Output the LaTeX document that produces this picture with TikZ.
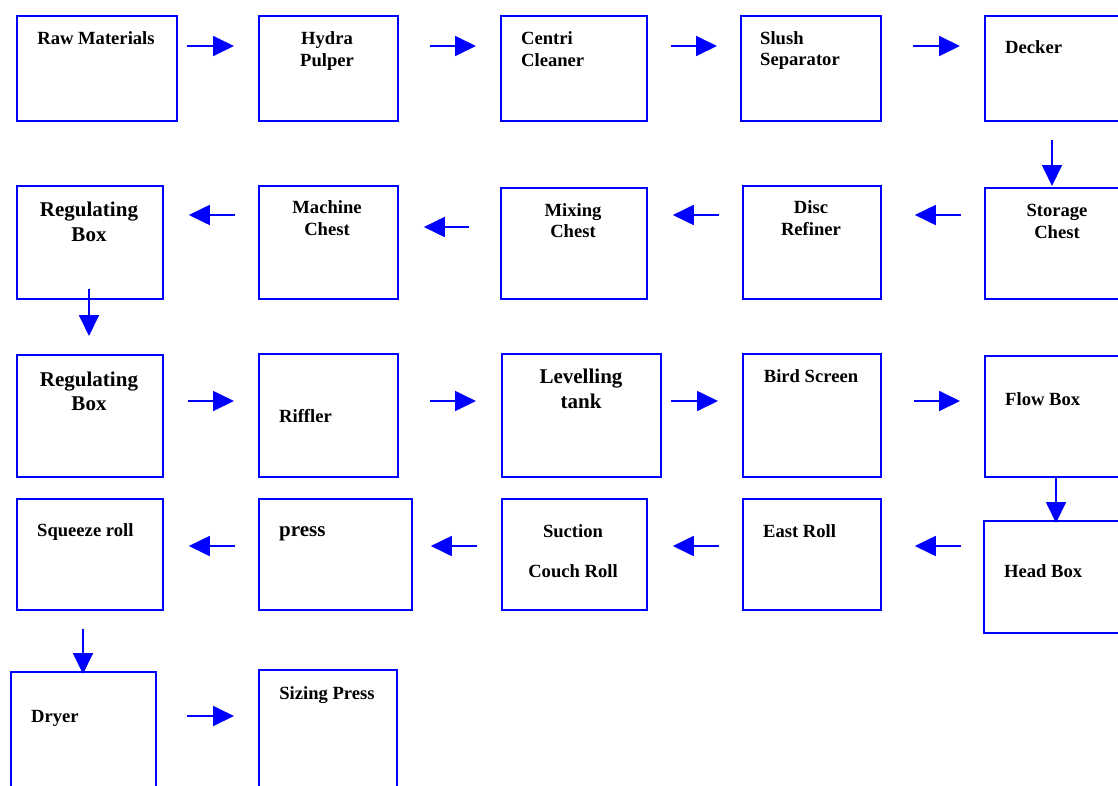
\documentclass[tikz,border=0pt]{standalone}
\usepackage{fontspec}
\setmainfont{Liberation Serif}
\usetikzlibrary{arrows.meta,calc}
\tikzset{
  stage/.style={draw=blue, line width=1.8pt, inner sep=0pt, anchor=north west},
  flow/.style={draw=blue, line width=1.8pt, -{Triangle[length=21pt,width=20pt]}},
  lbl/.style={inner sep=0pt, font=\fontsize{18.6}{21.5}\selectfont\bfseries},
  biglbl/.style={inner sep=0pt, font=\fontsize{21}{24.5}\selectfont\bfseries},
}
% \stagebox{name}{left}{top}{right}{bottom}
\newcommand\stagebox[5]{%
  \node[stage, minimum width={(#4-#2)*1pt}, minimum height={(#5-#3)*1pt}] (#1) at (#2,#3) {};}
\begin{document}
\begin{tikzpicture}[x=1pt,y=-1pt]
\useasboundingbox (0,0) rectangle (1118,785);
\clip (0,0) rectangle (1118,785);

% process stages
\stagebox{raw}{16}{15}{176}{120}
\stagebox{hydra}{258}{15}{397}{120}
\stagebox{centri}{500}{15}{646}{120}
\stagebox{slush}{740}{15}{880}{120}
\stagebox{decker}{984}{15}{1130}{120}
\stagebox{storage}{984}{187}{1130}{298}
\stagebox{disc}{742}{185}{880}{298}
\stagebox{mixing}{500}{187}{646}{298}
\stagebox{machine}{258}{185}{397}{298}
\stagebox{rega}{16}{185}{162}{298}
\stagebox{regb}{16}{354}{162}{476}
\stagebox{riffler}{258}{353}{397}{476}
\stagebox{level}{501}{353}{660}{476}
\stagebox{bird}{742}{353}{880}{476}
\stagebox{flowbox}{984}{355}{1130}{476}
\stagebox{headbox}{983}{520}{1130}{632}
\stagebox{east}{742}{498}{880}{609}
\stagebox{suction}{501}{498}{646}{609}
\stagebox{press}{258}{498}{411}{609}
\stagebox{squeeze}{16}{498}{162}{609}
\stagebox{dryer}{10}{671}{155}{800}
\stagebox{sizing}{258}{669}{396}{800}

% stage labels
\node[lbl, anchor=north] (raw-t) at (96,31.5) {Raw Materials};
\node[lbl, anchor=north, align=center] (hydra-t) at (327,31.5) {Hydra\\Pulper};
\node[lbl, anchor=north west, align=left] (centri-t) at (521,31.5) {Centri\\Cleaner};
\node[lbl, anchor=north west, align=left] (slush-t) at (760,31) {Slush\\Separator};
\node[lbl, anchor=north west] (decker-t) at (1005,40.8) {Decker};
\node[lbl, anchor=north, align=center] (storage-t) at (1057,204) {Storage\\Chest};
\node[lbl, anchor=north, align=center] (disc-t) at (811,200.8) {Disc\\Refiner};
\node[lbl, anchor=north, align=center] (mixing-t) at (573,203) {Mixing\\Chest};
\node[lbl, anchor=north, align=center] (machine-t) at (327,200.5) {Machine\\Chest};
\node[biglbl, anchor=north, align=center] (rega-t) at (89,202) {Regulating\\Box};
\node[biglbl, anchor=north, align=center] (regb-t) at (89,371.5) {Regulating\\Box};
\node[lbl, anchor=north west] (riffler-t) at (279,409.5) {Riffler};
\node[biglbl, anchor=north, align=center] (level-t) at (581,369) {Levelling\\tank};
\node[lbl, anchor=north] (bird-t) at (811,369) {Bird Screen};
\node[lbl, anchor=north west] (flowbox-t) at (1005,392.5) {Flow Box};
\node[lbl, anchor=north west] (headbox-t) at (1004,564) {Head Box};
\node[lbl, anchor=north west] (east-t) at (763,524) {East Roll};
\node[lbl, anchor=north, align=center] (suction-t) at (573,524) {Suction\\[19pt]Couch Roll};
\node[biglbl, anchor=north west] (press-t) at (279,526) {press};
\node[lbl, anchor=north west] (squeeze-t) at (37,523) {Squeeze roll};
\node[lbl, anchor=north west] (dryer-t) at (31,710) {Dryer};
\node[lbl, anchor=north] (sizing-t) at (327,686.5) {Sizing Press};

% flow between stages
\draw[flow] ($(raw.north east)+(9,31)$) -- ($(hydra.north west)+(-24,31)$);
\draw[flow] ($(hydra.north east)+(31,31)$) -- ($(centri.north west)+(-24,31)$);
\draw[flow] ($(centri.north east)+(23,31)$) -- ($(slush.north west)+(-23,31)$);
\draw[flow] ($(slush.north east)+(31,31)$) -- ($(decker.north west)+(-24,31)$);
\draw[flow] ($(decker.south west)+(68,18)$) -- ($(storage.north west)+(68,-1)$);
\draw[flow] ($(storage.north west)+(-23,28)$) -- ($(disc.north east)+(33,30)$);
\draw[flow] ($(disc.north west)+(-23,30)$) -- ($(mixing.north east)+(25,28)$);
\draw[flow] ($(mixing.north west)+(-31,40)$) -- ($(machine.north east)+(25,42)$);
\draw[flow] ($(machine.north west)+(-23,30)$) -- ($(rega.north east)+(25,30)$);
\draw[flow] ($(rega.south west)+(73,-11)$) -- ($(regb.north west)+(73,-18)$);
\draw[flow] ($(regb.north east)+(24,47)$) -- ($(riffler.north west)+(-24,48)$);
\draw[flow] ($(riffler.north east)+(31,48)$) -- ($(level.north west)+(-25,48)$);
\draw[flow] ($(level.north east)+(9,48)$) -- ($(bird.north west)+(-24,48)$);
\draw[flow] ($(bird.north east)+(32,48)$) -- ($(flowbox.north west)+(-24,46)$);
\draw[flow] ($(flowbox.south west)+(72,0)$) -- ($(headbox.north west)+(73,3)$);
\draw[flow] ($(headbox.north west)+(-22,26)$) -- ($(east.north east)+(33,48)$);
\draw[flow] ($(east.north west)+(-23,48)$) -- ($(suction.north east)+(25,48)$);
\draw[flow] ($(suction.north west)+(-24,48)$) -- ($(press.north east)+(18,48)$);
\draw[flow] ($(press.north west)+(-23,48)$) -- ($(squeeze.north east)+(25,48)$);
\draw[flow] ($(squeeze.south west)+(67,18)$) -- ($(dryer.north west)+(73,3)$);
\draw[flow] ($(dryer.north east)+(30,45)$) -- ($(sizing.north west)+(-24,47)$);
\end{tikzpicture}
\end{document}
